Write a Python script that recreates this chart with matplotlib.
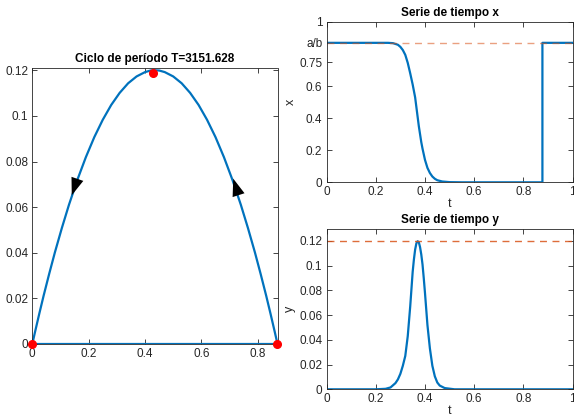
"""
Ciclo de periodo T: plano de fase y series de tiempo x, y
"""

import matplotlib
matplotlib.use('Agg')
import matplotlib.pyplot as plt

plt.rcParams['font.family'] = ['Liberation Sans', 'DejaVu Sans']

W, H = 574, 418
BLUE = '#0072BD'
ORANGE = '#D95319'
AXC = '#262626'

a_b = 0.87
y_max = 0.12
T_period = 3151.628

# ciclo en el plano de fase (x, y), en el orden de la trayectoria
cycle_x = [0.87, 0.86, 0.845, 0.83, 0.81, 0.79, 0.765, 0.74, 0.71, 0.68,
           0.65, 0.62, 0.59, 0.56, 0.53, 0.50, 0.47, 0.45, 0.435, 0.42,
           0.40, 0.37, 0.34, 0.31, 0.28, 0.25, 0.22, 0.19, 0.16, 0.13,
           0.105, 0.08, 0.06, 0.04, 0.025, 0.01, 0.0, 0.87]
cycle_y = [0.0, 0.00545, 0.0134, 0.0211, 0.0308, 0.0401, 0.0509, 0.0610,
           0.0720, 0.0819, 0.0907, 0.0983, 0.1048, 0.1101, 0.1143, 0.1173,
           0.1192, 0.1199, 0.1200, 0.1199, 0.1192, 0.1173, 0.1143, 0.1101,
           0.1048, 0.0983, 0.0907, 0.0819, 0.0720, 0.0610, 0.0509, 0.0401,
           0.0308, 0.0211, 0.0134, 0.00545, 0.0, 0.0]

# puntos de equilibrio / maximo
eq_x = [0.0, 0.87, 0.427]
eq_y = [0.0, 0.0, 0.1186]

# flechas (base, punta)
arrows = [((0.157, 0.0713), (0.140, 0.0652)),
          ((0.732, 0.0652), (0.713, 0.0725))]

# serie de tiempo x (tiempo normalizado)
t_x = [0.0, 0.25, 0.27, 0.29, 0.30, 0.31, 0.32, 0.33, 0.34, 0.35, 0.355,
       0.36, 0.365, 0.37, 0.375, 0.38, 0.385, 0.39, 0.40, 0.41, 0.42, 0.43,
       0.44, 0.45, 0.47, 0.50, 0.55, 0.877, 0.877, 1.0]
x_vals = [0.87, 0.87, 0.868, 0.858, 0.845, 0.825, 0.795, 0.745, 0.68, 0.61,
          0.57, 0.53, 0.47, 0.41, 0.35, 0.30, 0.25, 0.21, 0.14, 0.09, 0.058,
          0.036, 0.022, 0.013, 0.005, 0.001, 0.0, 0.0, 0.87, 0.87]

# serie de tiempo y
t_y = [0.0, 0.20, 0.24, 0.26, 0.28, 0.29, 0.30, 0.31, 0.32, 0.33, 0.34,
       0.35, 0.355, 0.36, 0.365, 0.37, 0.375, 0.38, 0.385, 0.39, 0.395,
       0.40, 0.41, 0.42, 0.43, 0.44, 0.45, 0.46, 0.48, 0.52, 1.0]
y_vals = [0.0, 0.0, 0.0004, 0.0015, 0.005, 0.008, 0.0125, 0.019, 0.027,
          0.043, 0.067, 0.095, 0.105, 0.113, 0.118, 0.1198, 0.119, 0.115,
          0.109, 0.101, 0.090, 0.078, 0.052, 0.033, 0.019, 0.0105, 0.0055,
          0.003, 0.001, 0.0, 0.0]


def px_axes(fig, left, top, right, bottom):
    return fig.add_axes([left / W, 1 - bottom / H, (right - left) / W, (bottom - top) / H])


def style(ax):
    ax.tick_params(direction='in', top=True, right=True, length=3.5, width=0.6,
                   colors=AXC, labelsize=8.5, pad=3)
    for s in ax.spines.values():
        s.set_color(AXC)
        s.set_linewidth(0.6)


fig = plt.figure(figsize=(W / 100, H / 100), dpi=100)

# plano de fase
ax1 = px_axes(fig, 32.3, 68, 277.5, 344)
ax1.plot(cycle_x, cycle_y, color=BLUE, lw=1.6)
ax1.plot(eq_x, eq_y, 'o', color='red', ms=5.5, clip_on=False, zorder=5)
for base, tip in arrows:
    ax1.annotate('', xy=tip, xytext=base,
                 arrowprops=dict(arrowstyle='-|>,head_length=1.25,head_width=0.45',
                                 color='k', lw=0, shrinkA=0, shrinkB=0,
                                 mutation_scale=10))
ax1.set_xlim(0, a_b)
ax1.set_ylim(0, 0.121)
ax1.set_xticks([0, 0.2, 0.4, 0.6, 0.8])
ax1.set_xticklabels(['0', '0.2', '0.4', '0.6', '0.8'])
ax1.set_yticks([0, 0.02, 0.04, 0.06, 0.08, 0.1, 0.12])
ax1.set_yticklabels(['0', '0.02', '0.04', '0.06', '0.08', '0.1', '0.12'])
ax1.set_title(f'Ciclo de período T={T_period:.3f}', fontsize=8.5,
              fontweight='bold', pad=4)
style(ax1)

# serie de tiempo x
ax2 = px_axes(fig, 326.5, 22, 572.7, 182.3)
ax2.plot(t_x, x_vals, color=BLUE, lw=1.6)
ax2.axhline(a_b, color=ORANGE, ls=(0, (5, 4)), lw=1.0, alpha=0.55)
ax2.set_xlim(0, 1)
ax2.set_ylim(0, 1)
ax2.set_xticks([0, 0.2, 0.4, 0.6, 0.8, 1])
ax2.set_xticklabels(['0', '0.2', '0.4', '0.6', '0.8', '1'])
ax2.set_yticks([0, 0.2, 0.4, 0.6, 0.75, a_b, 1])
ax2.set_yticklabels(['0', '0.2', '0.4', '0.6', '0.75', 'a/b', '1'])
ax2.set_title('Serie de tiempo x', fontsize=8.5, fontweight='bold', pad=4)
ax2.set_xlabel('t', fontsize=9, color=AXC, labelpad=0)
ax2.set_ylabel('x', fontsize=9, color=AXC, labelpad=2)
style(ax2)

# serie de tiempo y
ax3 = px_axes(fig, 326.5, 228.6, 572.7, 389.3)
ax3.plot(t_y, y_vals, color=BLUE, lw=1.6)
ax3.axhline(y_max, color=ORANGE, ls=(0, (5, 4)), lw=1.0, alpha=0.85)
ax3.set_xlim(0, 1)
ax3.set_ylim(0, 0.13)
ax3.set_xticks([0, 0.2, 0.4, 0.6, 0.8, 1])
ax3.set_xticklabels(['0', '0.2', '0.4', '0.6', '0.8', '1'])
ax3.set_yticks([0, 0.02, 0.04, 0.06, 0.08, 0.1, 0.12])
ax3.set_yticklabels(['0', '0.02', '0.04', '0.06', '0.08', '0.1', '0.12'])
ax3.set_title('Serie de tiempo y', fontsize=8.5, fontweight='bold', pad=4)
ax3.set_xlabel('t', fontsize=9, color=AXC, labelpad=0)
ax3.set_ylabel('y', fontsize=9, color=AXC, labelpad=2)
style(ax3)

fig.savefig('out.png', dpi=100)
plt.close(fig)
